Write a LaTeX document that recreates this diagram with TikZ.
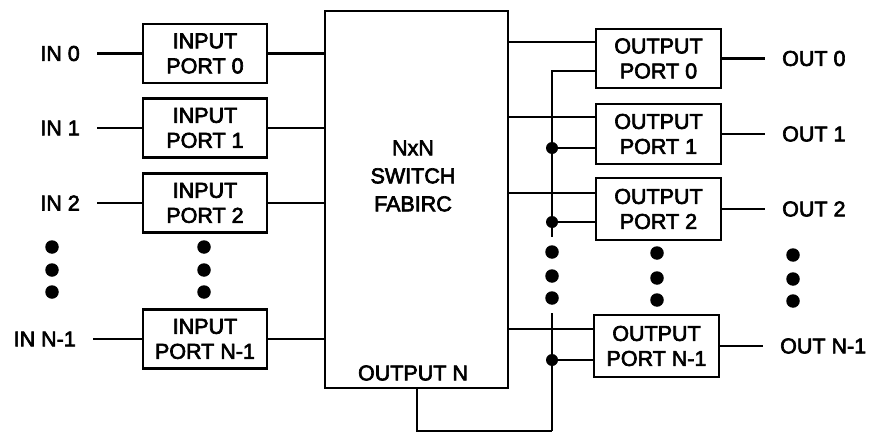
\documentclass[tikz,border=0pt]{standalone}
\usepackage{fontspec}
\setmainfont{Liberation Sans}[FakeBold=3]
\usetikzlibrary{calc}
\begin{document}
\begin{tikzpicture}[x=1pt,y=-1pt,
  wire/.style={line width=2.7pt},
  port/.style={draw,line width=2.7pt,minimum width=124pt,minimum height=59pt,inner sep=0pt,align=center,font=\fontsize{21.5}{25}\selectfont},
  lbl/.style={inner sep=0pt,font=\fontsize{21.5}{25}\selectfont},
  bigdot/.style={fill=black,circle,inner sep=0pt,minimum size=13.5pt},
  jdot/.style={fill=black,circle,inner sep=0pt,minimum size=12pt}]
\useasboundingbox (0,0) rectangle (869,433);
% switch
\node[draw,line width=2.7pt,minimum width=183pt,minimum height=377pt,inner sep=0pt] (sw) at (416.5,199.5) {};
\node[lbl,align=center,font=\fontsize{21.5}{28}\selectfont] (swt) at (413,176) {NxN\\SWITCH\\FABIRC};
\node[lbl] (swn) at (413,373) {OUTPUT N};
% input ports
\node[port] (ip0) at (205,53.5) {INPUT\\PORT 0};
\node[port] (ip1) at (205,128) {INPUT\\PORT 1};
\node[port] (ip2) at (205,203) {INPUT\\PORT 2};
\node[port] (ipn) at (205,339) {INPUT\\PORT N-1};
% input labels
\node[lbl,anchor=east] (in0) at (80,53.5) {IN 0};
\node[lbl,anchor=east] (in1) at (80,128) {IN 1};
\node[lbl,anchor=east] (in2) at (80,203) {IN 2};
\node[lbl,anchor=east] (inn) at (76,339) {IN N-1};
\foreach \i in {0,1,2,n}{
  \draw[wire] ($(in\i.east)+(17,0)$) -- (ip\i.west);
  \draw[wire] (ip\i.east) -- (ip\i.east -| sw.west);
}
% output ports
\node[port,minimum width=125pt] (op0) at (658.5,58.5) {OUTPUT\\PORT 0};
\node[port,minimum width=125pt,minimum height=60pt] (op1) at (658.5,134) {OUTPUT\\PORT 1};
\node[port,minimum width=125pt,minimum height=62pt] (op2) at (658.5,209) {OUTPUT\\PORT 2};
\node[port,minimum width=125pt,minimum height=62pt] (opn) at (656.5,346) {OUTPUT\\PORT N-1};
\node[lbl,anchor=west] (out0) at (782,58.5) {OUT 0};
\node[lbl,anchor=west] (out1) at (782,134) {OUT 1};
\node[lbl,anchor=west] (out2) at (782,209) {OUT 2};
\node[lbl,anchor=west] (outn) at (780,346) {OUT N-1};
\foreach \i in {0,1,2,n}{
  \draw[wire] (op\i.east) -- ($(out\i.west)+(-17,0)$);
}
% switch to output ports
\coordinate (s0) at (508,42);
\coordinate (s1) at (508,117);
\coordinate (s2) at (508,193);
\coordinate (sn) at (508,329);
\foreach \i in {0,1,2,n}{
  \draw[wire] (s\i -| sw.east) -- (s\i -| op\i.west);
}
% shared bus
\coordinate (btop) at (552,71);
\coordinate (bmid1) at (552,237);
\coordinate (bmid2) at (552,313);
\coordinate (bbot) at (552,431);
\coordinate (j1) at (552,148);
\coordinate (j2) at (552,222);
\coordinate (jn) at (552,360);
\draw[wire] (btop -| op0.west) -- (btop) -- (bmid1);
\draw[wire] (bmid2) -- (bbot);
\draw[wire] (j1) -- (j1 -| op1.west);
\draw[wire] (j2) -- (j2 -| op2.west);
\draw[wire] (jn) -- (jn -| opn.west);
\node[jdot] (jd1) at (j1) {};
\node[jdot] (jd2) at (j2) {};
\node[jdot] (jdn) at (jn) {};
\draw[wire] (sw.south -| 417,0) -- (417,431) -- (bbot);
% ellipsis dots
\foreach \x/\a/\b/\c [count=\k] in {52/247/270/292, 204/247/270/292, 552/252/276/298, 657/253/278/300, 793/255/279/301}{
  \node[bigdot] (d\k a) at (\x,\a) {};
  \node[bigdot] (d\k b) at (\x,\b) {};
  \node[bigdot] (d\k c) at (\x,\c) {};
}
\end{tikzpicture}
\end{document}
